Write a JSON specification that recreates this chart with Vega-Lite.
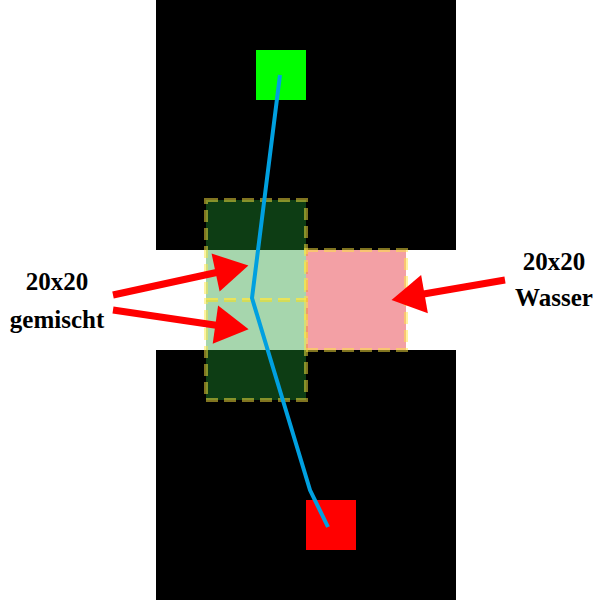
{
  "$schema": "https://vega.github.io/schema/vega-lite/v6.json",
  "width": 601,
  "height": 600,
  "autosize": "none",
  "padding": 0,
  "background": "white",
  "config": {"view": {"stroke": null}},
  "datasets": {
    "blocks": [
      {"x": 156, "x2": 456, "y": 0, "y2": 250, "color": "#000000"},
      {"x": 156, "x2": 456, "y": 350, "y2": 600, "color": "#000000"},
      {"x": 256, "x2": 306, "y": 50, "y2": 100, "color": "#00ff00"},
      {"x": 306, "x2": 356, "y": 500, "y2": 550, "color": "#ff0000"}
    ],
    "cells": [
      {"x": 206, "x2": 306, "y": 200, "y2": 300, "color": "#209832"},
      {"x": 206, "x2": 306, "y": 300, "y2": 400, "color": "#209832"},
      {"x": 306, "x2": 406, "y": 250, "y2": 350, "color": "#e1111e"}
    ],
    "path": [
      {"x": 280, "y": 75, "o": 1},
      {"x": 252, "y": 298, "o": 2},
      {"x": 310, "y": 490, "o": 3},
      {"x": 328, "y": 527, "o": 4}
    ],
    "arrows": [
      {"id": "a", "x": 113, "y": 295, "o": 1},
      {"id": "a", "x": 228, "y": 270, "o": 2},
      {"id": "b", "x": 113, "y": 310, "o": 1},
      {"id": "b", "x": 228, "y": 327, "o": 2},
      {"id": "c", "x": 505, "y": 280, "o": 1},
      {"id": "c", "x": 412, "y": 296, "o": 2}
    ],
    "heads": [
      {"x": 232, "y": 269, "angle": -12},
      {"x": 232, "y": 327, "angle": 8},
      {"x": 408, "y": 297, "angle": 170}
    ],
    "labels": [
      {"x": 57, "y": 282, "text": "20x20"},
      {"x": 57, "y": 320, "text": "gemischt"},
      {"x": 554, "y": 262, "text": "20x20"},
      {"x": 554, "y": 298, "text": "Wasser"}
    ]
  },
  "encoding": {
    "x": {"field": "x", "type": "quantitative", "scale": {"domain": [0, 601]}, "axis": null},
    "y": {"field": "y", "type": "quantitative", "scale": {"domain": [0, 600], "reverse": true}, "axis": null}
  },
  "layer": [
    {
      "data": {"name": "blocks"},
      "mark": {"type": "rect"},
      "encoding": {
        "x2": {"field": "x2"},
        "y2": {"field": "y2"},
        "color": {"field": "color", "type": "nominal", "scale": null}
      }
    },
    {
      "data": {"name": "cells"},
      "mark": {"type": "rect", "fillOpacity": 0.4, "stroke": "#ffe840", "strokeOpacity": 0.5, "strokeWidth": 4, "strokeDash": [12, 6]},
      "encoding": {
        "x2": {"field": "x2"},
        "y2": {"field": "y2"},
        "fill": {"field": "color", "type": "nominal", "scale": null}
      }
    },
    {
      "data": {"name": "path"},
      "mark": {"type": "line", "color": "#00a0e0", "strokeWidth": 4},
      "encoding": {"order": {"field": "o"}}
    },
    {
      "data": {"name": "arrows"},
      "mark": {"type": "line", "color": "#ff0000", "strokeWidth": 7},
      "encoding": {"detail": {"field": "id"}, "order": {"field": "o"}}
    },
    {
      "data": {"name": "heads"},
      "mark": {"type": "point", "shape": "triangle-right", "filled": true, "color": "#ff0000", "opacity": 1, "size": 1500},
      "encoding": {"angle": {"field": "angle", "type": "quantitative", "scale": null}}
    },
    {
      "data": {"name": "labels"},
      "mark": {"type": "text", "font": "Liberation Serif", "fontWeight": "bold", "fontSize": 25, "color": "#000000"},
      "encoding": {"text": {"field": "text"}}
    }
  ]
}
